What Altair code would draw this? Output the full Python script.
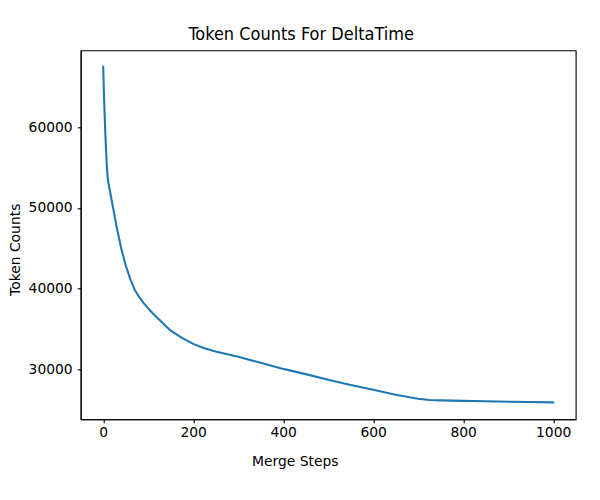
import altair as alt
import pandas as pd

steps = [0, 2, 4, 6, 8, 10, 12, 20, 30, 40, 50, 60, 70, 80, 90, 100, 110, 120,
         130, 140, 150, 175, 200, 225, 250, 300, 350, 400, 450, 500, 550, 600, 650, 700,
         725, 750, 800, 850, 900, 950, 1000]
counts = [67500, 63500, 60300, 57600, 55300, 53700, 53000, 50600, 47600, 45000, 42900,
          41200, 39850, 38950, 38200, 37550, 36950, 36400, 35850, 35300, 34800, 33900,
          33150, 32600, 32200, 31550, 30800, 30050, 29400, 28700, 28050, 27450, 26850,
          26350, 26200, 26150, 26080, 26030, 25980, 25940, 25900]

x_ticks = [0, 200, 400, 600, 800, 1000]
y_ticks = [30000, 40000, 50000, 60000]

df = pd.DataFrame({"step": steps, "count": counts})

tick_font = "DejaVu Sans"

chart = alt.Chart(df).mark_line(
    color="#1f77b4", strokeWidth=2.08, strokeCap="square"
).encode(
    x=alt.X("step:Q",
            scale=alt.Scale(domain=[-50, 1050], nice=False, zero=False),
            axis=alt.Axis(values=x_ticks, title="Merge Steps", grid=False, format="d",
                          tickSize=3.5, tickColor="black", domainColor="black",
                          labelFont=tick_font, labelFontSize=13.9, labelColor="black",
                          labelPadding=3, labelFlush=False,
                          titleFont=tick_font, titleFontSize=13.9, titleColor="black",
                          titleFontWeight="normal", titleX=214, titleY=42,
                          titleBaseline="middle", titleAnchor="middle", titleAlign="center")),
    y=alt.Y("count:Q",
            scale=alt.Scale(domain=[23800, 69545], nice=False, zero=False),
            axis=alt.Axis(values=y_ticks, title="Token Counts", grid=False, format="d",
                          tickSize=3.5, tickColor="black", domainColor="black",
                          labelFont=tick_font, labelFontSize=13.9, labelColor="black",
                          labelPadding=5, labelFlush=False,
                          titleFont=tick_font, titleFontSize=13.9, titleColor="black",
                          titleFontWeight="normal", titleX=-65, titleY=199,
                          titleBaseline="middle", titleAngle=-90,
                          titleAnchor="middle", titleAlign="center")),
).properties(
    width=495,
    height=369,
    title=alt.TitleParams("Token Counts For DeltaTime",
                          font="DejaVu Sans Condensed, Liberation Sans Narrow, Liberation Sans",
                          fontSize=18, fontWeight="normal", color="black",
                          anchor="middle", dx=-27, dy=18, offset=10, baseline="alphabetic"),
    autosize=alt.AutoSizeParams(type="none"),
    padding={"left": 72.7, "top": 42.3, "right": 16, "bottom": 70},
).configure_view(
    stroke="black", strokeWidth=1.1
).configure_axis(
    domainWidth=1.1, tickWidth=1.1
)

chart.save("out.html", embed_options={"renderer": "svg", "actions": False})
